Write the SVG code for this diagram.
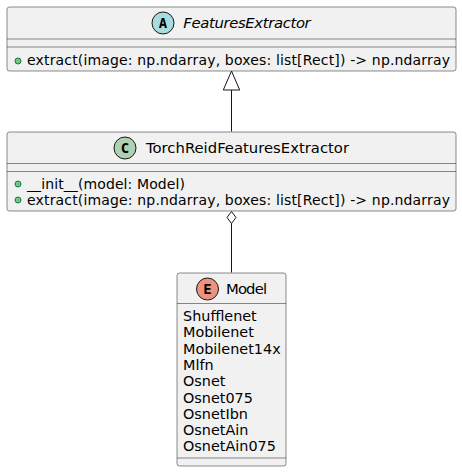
<svg xmlns="http://www.w3.org/2000/svg" width="462" height="472" viewBox="0 0 462 472">
<style>
.box{fill:#F1F1F1;stroke:#181818;stroke-width:0.5}
.sep{stroke:#181818;stroke-width:0.5}
.t{font-family:"DejaVu Sans",sans-serif;font-size:14px;fill:#000}
.m{font-family:"DejaVu Sans",sans-serif;font-size:14.4px;fill:#000}
.h{font-family:"DejaVu Sans",sans-serif;font-size:14.8px;fill:#000}
.dot{fill:#84BE84;stroke:#038048;stroke-width:1}
.ic{font-family:"DejaVu Sans Mono","Liberation Mono",monospace;font-weight:bold;font-size:14px;fill:#000;text-anchor:middle}
.ln{stroke:#181818;stroke-width:1;fill:none}
</style>
<g id="FeaturesExtractor">
<rect class="box" x="7" y="7" width="449" height="64" rx="2.5"/>
<circle cx="163" cy="23" r="11" fill="#A9DCDF" stroke="#181818" stroke-width="1"/>
<text class="ic" x="163" y="28">A</text>
<text class="h" x="183.3" y="28" font-style="italic" textLength="127.4">FeaturesExtractor</text>
<line class="sep" x1="7" y1="39" x2="456" y2="39"/>
<line class="sep" x1="7" y1="47" x2="456" y2="47"/>
<circle class="dot" cx="18" cy="61" r="3"/>
<text class="t" x="27" y="65" textLength="423">extract(image: np.ndarray, boxes: list[Rect]) -&gt; np.ndarray</text>
</g>
<g id="TorchReidFeaturesExtractor">
<rect class="box" x="7" y="132" width="449" height="79" rx="2.5"/>
<circle cx="125" cy="148" r="11" fill="#ADD1B2" stroke="#181818" stroke-width="1"/>
<text class="ic" x="125" y="153">C</text>
<text class="h" x="146" y="153" textLength="203">TorchReidFeaturesExtractor</text>
<line class="sep" x1="7" y1="163.5" x2="456" y2="163.5"/>
<line class="sep" x1="7" y1="171.5" x2="456" y2="171.5"/>
<circle class="dot" cx="18" cy="184" r="3"/>
<text class="t" x="27" y="189" textLength="158">__init__(model: Model)</text>
<circle class="dot" cx="18" cy="200" r="3"/>
<text class="t" x="27" y="205" textLength="423">extract(image: np.ndarray, boxes: list[Rect]) -&gt; np.ndarray</text>
</g>
<g id="Model">
<rect class="box" x="177" y="273" width="109" height="193" rx="2.5"/>
<circle cx="207.5" cy="289" r="11" fill="#EB937F" stroke="#181818" stroke-width="1"/>
<text class="ic" x="207.5" y="294">E</text>
<text class="h" x="226" y="294" textLength="41">Model</text>
<line class="sep" x1="177" y1="303.5" x2="286" y2="303.5"/>
<text class="m" x="183" y="321">Shufflenet</text>
<text class="m" x="183" y="337.3">Mobilenet</text>
<text class="m" x="183" y="353.6">Mobilenet14x</text>
<text class="m" x="183" y="369.9">Mlfn</text>
<text class="m" x="183" y="386.2">Osnet</text>
<text class="m" x="183" y="402.5">Osnet075</text>
<text class="m" x="183" y="418.8">OsnetIbn</text>
<text class="m" x="183" y="435.1">OsnetAin</text>
<text class="m" x="183" y="451.4">OsnetAin075</text>
<line class="sep" x1="177" y1="458" x2="286" y2="458"/>
</g>
<g id="connectors">
<path class="ln" d="M231.5,131.5 L231.5,90"/>
<polygon points="231.5,71 223.3,90 239.7,90" fill="#FFFFFF" stroke="#181818" stroke-width="1"/>
<polygon points="231.5,211.5 227,217.5 231.5,223.5 236,217.5" fill="#FFFFFF" stroke="#181818" stroke-width="1"/>
<path class="ln" d="M231.5,223.5 L231.5,272.5"/>
</g>
</svg>
